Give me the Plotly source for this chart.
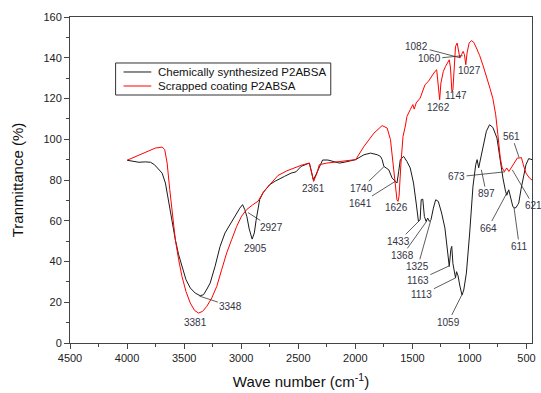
import plotly.graph_objects as go

# Chemically synthesized P2ABSA (black)
chem_wn = [4000, 3950, 3896, 3840, 3794, 3760, 3736, 3693, 3664, 3635, 3606, 3577, 3548, 3519, 3484,
           3446, 3403, 3359, 3330, 3300, 3280, 3272, 3229, 3185, 3142, 3099, 3055, 3012, 2988, 2968,
           2950, 2930, 2904, 2885, 2870, 2850, 2838, 2809, 2751, 2700, 2678, 2620, 2562, 2520, 2475,
           2420, 2403, 2388, 2368, 2345, 2316, 2287, 2240, 2185, 2140, 2098, 2040, 1997, 1924, 1866,
           1808, 1780, 1765, 1750, 1707, 1678, 1649, 1635, 1620, 1606, 1577, 1548, 1519, 1490, 1467,
           1447, 1432, 1423, 1409, 1395, 1380, 1366, 1351, 1337, 1316, 1296, 1273, 1244, 1215, 1195,
           1177, 1163, 1155, 1145, 1134, 1122, 1113, 1100, 1084, 1065, 1050, 1027, 998, 969, 945,
           933, 919, 901, 881, 852, 824, 795, 759, 736, 707, 684, 673, 656, 638, 620, 606, 591, 577,
           568, 548, 528, 505, 481, 461, 452]
chem_t = [89.7, 89.2, 88.7, 88.9, 88.7, 87.5, 85.9, 83.4, 78.5, 68.7, 58.9, 50.7, 43.3, 37.6, 31.1,
          27.0, 24.5, 23.2, 23.7, 26.5, 28.5, 29.4, 37.6, 47.4, 54.0, 58.1, 62.2, 66.2, 67.9, 65.4,
          62.0, 56.0, 51.0, 54.0, 60.0, 67.0, 70.4, 73.7, 77.7, 79.5, 80.2, 81.8, 83.4, 84.0, 86.7,
          88.0, 88.3, 85.0, 80.1, 82.6, 86.7, 89.8, 89.8, 89.1, 88.3, 88.7, 89.3, 90.0, 92.4, 93.2,
          92.4, 91.6, 90.0, 86.7, 85.0, 81.0, 79.3, 78.5, 84.2, 90.0, 91.6, 89.1, 85.9, 78.5, 68.7,
          59.7, 60.5, 70.3, 70.6, 62.1, 59.7, 61.3, 59.7, 60.5, 66.2, 70.3, 69.5, 63.8, 56.4, 47.4,
          37.6, 46.0, 47.4, 39.0, 36.0, 32.0, 35.0, 33.0, 28.0, 23.5, 26.0, 34.3, 54.0, 77.0, 87.5,
          90.0, 86.0, 90.5, 96.5, 103.9, 107.1, 105.8, 100.6, 90.8, 81.0, 74.5, 72.5, 75.2, 70.3, 67.0, 66.2, 66.5, 67.9,
          68.7, 75.5, 81.0, 87.5, 90.5, 90.3, 90.0]

# Scrapped coating P2ABSA (red)
coat_wn = [4000, 3930, 3867, 3800, 3751, 3720, 3693, 3670, 3649, 3626, 3600, 3577, 3548, 3519, 3484,
           3446, 3409, 3374, 3339, 3301, 3258, 3214, 3171, 3127, 3084, 3040, 2997, 2954, 2900, 2852,
           2800, 2751, 2678, 2600, 2533, 2470, 2403, 2382, 2365, 2336, 2316, 2250, 2185, 2100, 1997,
           1924, 1837, 1765, 1721, 1692, 1664, 1635, 1626, 1617, 1600, 1582, 1560, 1548, 1519, 1496,
           1484, 1467, 1432, 1389, 1360, 1331, 1302, 1287, 1273, 1261, 1250, 1229, 1209, 1192, 1177,
           1166, 1154, 1145, 1134, 1122, 1108, 1096, 1084, 1070, 1055, 1044, 1032, 1021, 1003, 983,
           963, 939, 910, 880, 850, 820, 795, 770, 751, 730, 713, 693, 673, 655, 635, 615, 597, 580,
           562, 545, 528, 505, 475, 452]
coat_t = [89.7, 91.3, 92.9, 94.5, 95.7, 95.9, 96.2, 94.9, 88.3, 75.3, 62.2, 50.7, 40.9, 32.7, 25.3,
          19.6, 16.0, 14.7, 15.5, 18.0, 22.1, 27.8, 36.0, 44.2, 50.7, 57.2, 62.2, 65.4, 67.8, 69.6,
          74.5, 77.7, 82.2, 84.5, 85.9, 87.3, 88.3, 83.4, 79.3, 83.4, 87.5, 88.3, 88.7, 89.2, 90.0,
          96.5, 103.0, 106.7, 105.5, 99.8, 86.7, 70.3, 69.5, 72.0, 88.3, 101.4, 107.0, 111.2, 114.5, 117.0,
          114.8, 117.8, 120.2, 126.8, 128.4, 131.2, 133.3, 134.1, 127.6, 119.4, 127.6, 133.3, 135.8, 137.4, 139.0,
          135.0, 123.5, 124.3, 137.4, 145.6, 147.2, 142.3, 139.9, 141.5, 143.1, 141.5, 136.6, 142.3, 147.2, 148.4,
          147.6, 144.8, 141.0, 136.0, 131.0, 125.0, 120.0, 112.0, 102.2, 90.8, 85.9, 84.2, 85.9, 84.2, 85.9, 87.5, 89.1, 90.8,
          90.8, 91.0, 87.5, 83.4, 81.0, 80.0]

x_ticks = [4500, 4000, 3500, 3000, 2500, 2000, 1500, 1000, 500]
y_ticks = [0, 20, 40, 60, 80, 100, 120, 140, 160]

series_names = ["Chemically synthesized P2ABSA", "Scrapped coating P2ABSA"]
series_colors = ["#1a1a1a", "#ff0000"]

# Peak labels: text, label position (x, y), pointed position (x, y) or None
peak_text = ["1082", "1060", "1027", "1147", "1262", "561", "673", "897", "664", "611", "621",
             "1740", "1641", "1626", "2361", "2927", "2905", "3348", "3381", "1433", "1368",
             "1325", "1163", "1113", "1059"]
label_x = [1463, 1352, 996, 1121, 1270, 628, 1113, 852, 837, 563, 440,
           1945, 1952, 1643, 2370, 2737, 2878, 3090, 3400, 1620, 1588,
           1452, 1452, 1417, 1186]
label_y = [145.6, 139.4, 133.6, 121.4, 115.6, 101.5, 81.5, 73.3, 56.4, 47.4, 67.4,
           76.0, 68.7, 66.3, 75.7, 56.7, 46.6, 18.0, 10.3, 49.9, 43.0,
           37.6, 30.7, 23.7, 10.3]
point_x = [1084, 1060, None, None, None, 565, 690, 896, 664, 611, 625,
           1750, 1645, None, None, 2940, None, 3365, None, 1440, 1372,
           1340, 1172, 1120, 1068]
point_y = [140.0, 141.0, None, None, None, 91.0, 84.0, 85.0, 74.5, 67.0, 85.0,
           86.5, 79.5, None, None, 64.0, None, 23.0, None, 60.0, 60.0,
           60.0, 38.0, 32.0, 23.5]

FONT = "Liberation Sans, Arial, sans-serif"

fig = go.Figure()
fig.add_trace(go.Scatter(x=chem_wn, y=chem_t, mode="lines", name=series_names[0],
                         line=dict(color=series_colors[0], width=1)))
fig.add_trace(go.Scatter(x=coat_wn, y=coat_t, mode="lines", name=series_names[1],
                         line=dict(color=series_colors[1], width=1)))

ann_font = dict(family=FONT, size=10, color="#333344")
for t, lx, ly, px, py in zip(peak_text, label_x, label_y, point_x, point_y):
    if px is None:
        fig.add_annotation(x=lx, y=ly, xref="x", yref="y", text=t, showarrow=False, font=ann_font)
    else:
        fig.add_annotation(x=px, y=py, xref="x", yref="y", ax=lx, ay=ly, axref="x", ayref="y",
                           text=t, showarrow=True, arrowhead=0, arrowwidth=0.8,
                           arrowcolor="#333333", font=ann_font, standoff=0)

# Legend box (drawn in paper coordinates)
fig.add_shape(type="rect", xref="paper", yref="paper", x0=0.0987, x1=0.5644, y0=0.7607, y1=0.8589,
              line=dict(color="#333333", width=1), fillcolor="white", layer="above")
legend_rows = [0.8313, 0.7883]
for name, color, ry in zip(series_names, series_colors, legend_rows):
    fig.add_shape(type="line", xref="paper", yref="paper", x0=0.1159, x1=0.1760, y0=ry, y1=ry,
                  line=dict(color=color, width=1), layer="above")
    fig.add_annotation(xref="paper", yref="paper", x=0.1867, y=ry, xanchor="left", yanchor="middle",
                       text=name, showarrow=False,
                       font=dict(family=FONT, size=11.5, color="#111111"))

axis_common = dict(showline=True, linecolor="#444444", linewidth=1, mirror=True,
                   ticks="outside", ticklen=5, tickcolor="#444444", showgrid=False, zeroline=False,
                   tickfont=dict(family=FONT, size=11, color="#222222"))

fig.update_layout(
    width=541, height=393,
    margin=dict(l=70, r=5, t=17, b=50),
    paper_bgcolor="white", plot_bgcolor="white",
    showlegend=False,
    xaxis=dict(range=[4500, 452], tickmode="array", tickvals=x_ticks,
               ticktext=[str(v) for v in x_ticks],
               minor=dict(ticks="outside", ticklen=3, dtick=250, tickcolor="#444444"),
               title=dict(text="Wave number (cm<sup>-1</sup>)", standoff=13,
                          font=dict(family=FONT, size=15, color="#111111")),
               **axis_common),
    yaxis=dict(range=[0, 160], tickmode="array", tickvals=y_ticks,
               minor=dict(ticks="outside", ticklen=3, dtick=10, tickcolor="#444444"),
               title=dict(text="Tranmittance (%)", standoff=16,
                          font=dict(family=FONT, size=15, color="#111111")),
               **axis_common),
)

fig.write_html("out.html", config={"displayModeBar": False},
               post_script="document.body.style.margin='0';document.body.style.overflow='hidden';")
